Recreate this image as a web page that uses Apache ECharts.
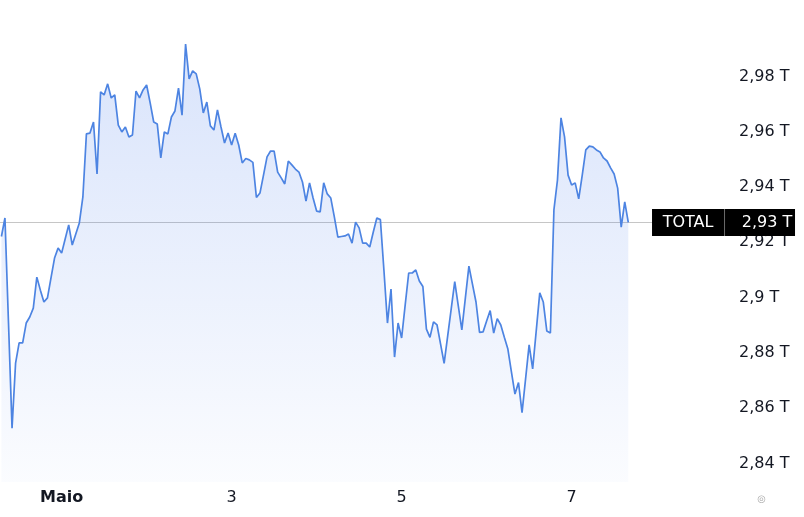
<!DOCTYPE html>
<html>
<head>
<meta charset="utf-8">
<script src="https://cdn.jsdelivr.net/npm/echarts@6/dist/echarts.min.js"></script>
<style>
html,body{margin:0;padding:0;background:#fff;}
#chart{width:804px;height:517px;}
</style>
</head>
<body>
<div id="chart"></div>
<script>
// Hourly TOTAL crypto market cap (trillions), from Apr 30 07:00 (hour -17 relative to May 1 00:00)
const startHour = -17;
const values = [
 2.9221, 2.9288, 2.8908, 2.8528, 2.8763, 2.8836, 2.8836, 2.8908, 2.8930, 2.8962,
 2.9074, 2.9027, 2.8984, 2.8999, 2.9071, 2.9143, 2.9179, 2.9161, 2.9212, 2.9263,
 2.9190, 2.9230, 2.9270, 2.9364, 2.9592, 2.9595, 2.9635, 2.9447, 2.9744, 2.9733,
 2.9773, 2.9722, 2.9733, 2.9624, 2.9599, 2.9617, 2.9581, 2.9588, 2.9747, 2.9722,
 2.9751, 2.9769, 2.9704, 2.9635, 2.9628, 2.9505, 2.9599, 2.9592, 2.9653, 2.9675,
 2.9758, 2.9660, 2.9917, 2.9791, 2.9820, 2.9809, 2.9755, 2.9668, 2.9707, 2.9621,
 2.9606, 2.9679, 2.9617, 2.9559, 2.9595, 2.9552, 2.9594, 2.9552, 2.9487, 2.9503,
 2.9498, 2.9489, 2.9362, 2.9378, 2.9443, 2.9509, 2.9530, 2.9530, 2.9454, 2.9433,
 2.9411, 2.9494, 2.9480, 2.9465, 2.9454, 2.9418, 2.9349, 2.9415, 2.9360, 2.9313,
 2.9310, 2.9415, 2.9375, 2.9360, 2.9292, 2.9219, 2.9221, 2.9223, 2.9230, 2.9197,
 2.9273, 2.9252, 2.9197, 2.9197, 2.9183, 2.9237, 2.9288, 2.9282, 2.9100, 2.8908,
 2.9031, 2.8785, 2.8908, 2.8854, 2.8973, 2.9089, 2.9089, 2.9100, 2.9060, 2.9040,
 2.8886, 2.8856, 2.8912, 2.8901, 2.8832, 2.8762, 2.8861, 2.8959, 2.9058, 2.8970,
 2.8883, 2.8999, 2.9114, 2.9049, 2.8984, 2.8874, 2.8876, 2.8915, 2.8953, 2.8872,
 2.8924, 2.8901, 2.8857, 2.8814, 2.8731, 2.8651, 2.8693, 2.8584, 2.8706, 2.8829,
 2.8742, 2.8879, 2.9017, 2.8984, 2.8879, 2.8872, 2.9317, 2.9425, 2.9650, 2.9581,
 2.9443, 2.9407, 2.9415, 2.9357, 2.9443, 2.9534, 2.9548, 2.9545, 2.9534, 2.9527,
 2.9505, 2.9494, 2.9469, 2.9447, 2.9396, 2.9255, 2.9346, 2.9272
];
const xTickHours = [0, 48, 96, 144];
const xTickLabels = ['Maio', '3', '5', '7'];
const yTickValues = [2.84, 2.86, 2.88, 2.90, 2.92, 2.94, 2.96, 2.98];
const yTickLabels = ['2,84 T', '2,86 T', '2,88 T', '2,9 T', '2,92 T', '2,94 T', '2,96 T', '2,98 T'];
const seriesName = 'TOTAL';

const FONT = 'DejaVu Sans';
const seriesData = values.map((v, i) => [startHour + i, v]);
const lastPoint = seriesData[seriesData.length - 1];
const lastLabel = lastPoint[1].toFixed(2).replace('.', ',') + ' T';

const chart = echarts.init(document.getElementById('chart'), null, {renderer: 'canvas'});
chart.setOption({
  animation: false,
  backgroundColor: '#ffffff',
  title: {
    text: '\u25CE', right: 33, bottom: 8,
    textStyle: {fontSize: 10, color: '#aaaaaa', fontWeight: 'normal', fontFamily: FONT}
  },
  grid: {left: 0, right: 73, top: 0, bottom: 35, containLabel: false},
  xAxis: {
    type: 'value',
    min: -17.4,
    max: 189.0,
    axisLine: {show: false},
    axisTick: {show: false},
    splitLine: {show: false},
    axisLabel: {
      customValues: xTickHours,
      margin: 8,
      fontFamily: FONT,
      fontSize: 16,
      color: '#131722',
      formatter: function (v) {
        const idx = xTickHours.indexOf(Math.round(v));
        if (idx < 0) return '';
        return idx === 0 ? '{b|' + xTickLabels[idx] + '}' : xTickLabels[idx];
      },
      rich: {b: {fontWeight: 'bold', fontFamily: FONT, fontSize: 16, color: '#131722'}}
    }
  },
  yAxis: {
    type: 'value',
    position: 'right',
    min: 2.83331,
    max: 3.00763,
    axisLine: {show: false},
    axisTick: {show: false},
    splitLine: {show: false},
    axisLabel: {
      customValues: yTickValues,
      margin: 8,
      fontFamily: FONT,
      fontSize: 16,
      color: '#131722',
      formatter: function (v) {
        let best = 0, d = 1e9;
        yTickValues.forEach((t, i) => { if (Math.abs(t - v) < d) { d = Math.abs(t - v); best = i; } });
        return yTickLabels[best];
      }
    }
  },
  series: [{
    name: seriesName,
    type: 'line',
    data: seriesData,
    showSymbol: false,
    smooth: false,
    lineStyle: {color: '#4d84e2', width: 1.7},
    itemStyle: {color: '#4d84e2'},
    areaStyle: {
      color: new echarts.graphic.LinearGradient(0, 0, 0, 1, [
        {offset: 0, color: 'rgba(60,115,235,0.28)'},
        {offset: 1, color: 'rgba(60,115,235,0.03)'}
      ])
    },
    z: 3,
    markLine: {
      silent: true,
      precision: 6,
      symbol: ['none', 'none'],
      lineStyle: {color: '#c6c6c6', width: 1, type: 'solid'},
      label: {show: false},
      data: [{yAxis: lastPoint[1]}],
      z: 2
    },
    markPoint: {
      silent: true,
      symbol: 'rect',
      symbolSize: 0,
      z: 10,
      label: {
        show: true,
        position: 'right',
        distance: 0,
        backgroundColor: '#000000',
        padding: 0,
        formatter: '{a|' + seriesName + '}{s|}{b|' + lastLabel + '}',
        rich: {
          a: {color: '#ffffff', fontFamily: FONT, fontSize: 16, width: 72, height: 27, lineHeight: 27, align: 'center'},
          s: {width: 1, height: 27, backgroundColor: '#6b6b6b'},
          b: {color: '#ffffff', fontFamily: FONT, fontSize: 16, width: 56, height: 27, lineHeight: 27, padding: [0, 0, 0, 14]}
        }
      },
      data: [{coord: [166.7, lastPoint[1]]}]
    }
  }]
});
</script>
</body>
</html>
